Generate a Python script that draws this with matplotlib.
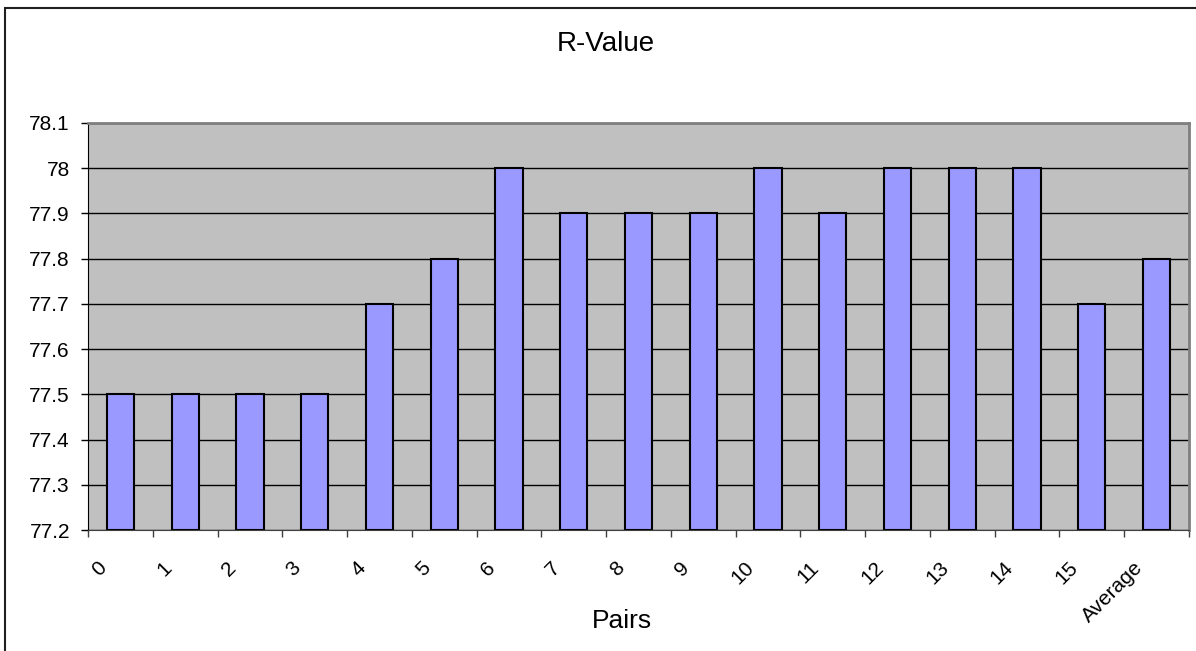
import matplotlib.pyplot as plt
import matplotlib.patches as patches
import matplotlib.transforms as mtransforms
import numpy as np

# Data
pairs = ['0', '1', '2', '3', '4', '5', '6', '7', '8', '9', '10',
         '11', '12', '13', '14', '15', 'Average']
r_values = [77.5, 77.5, 77.5, 77.5, 77.7, 77.8, 78.0, 77.9, 77.9, 77.9,
            78.0, 77.9, 78.0, 78.0, 78.0, 77.7, 77.8]
y_ticks = [77.2, 77.3, 77.4, 77.5, 77.6, 77.7, 77.8, 77.9, 78.0, 78.1]

plt.rcParams['font.family'] = ['Liberation Sans', 'DejaVu Sans']

W, H = 1196, 651
fig = plt.figure(figsize=(W / 100, H / 100), dpi=100)
ax = fig.add_axes([88 / W, 1 - 530 / H, (1189 - 88) / W, (530 - 123) / H])

x = np.arange(len(pairs))
ax.set_facecolor('#C0C0C0')
ax.set_axisbelow(True)
ax.yaxis.grid(True, color='black', linewidth=1)
ax.bar(x, np.array(r_values) - 77.2, bottom=77.2, width=0.42,
       color='#9999FF', edgecolor='black', linewidth=1.5, zorder=3)

ax.set_xlim(-0.5, len(pairs) - 0.5)
ax.set_ylim(77.2, 78.1)
ax.set_yticks(y_ticks)
ax.set_yticklabels([f"{v:g}" for v in y_ticks], fontsize=15)
ax.tick_params(axis='y', length=5, width=1, pad=8)

# category labels at centres, tick marks at boundaries
ax.set_xticks(x)
ax.set_xticklabels(pairs, rotation=45, ha='right', va='top', fontsize=15)
ax.tick_params(axis='x', which='major', length=0, pad=20)
ax.set_xticks(np.arange(-0.5, len(pairs)), minor=True)
ax.tick_params(axis='x', which='minor', length=5, width=1, color='#404040')
offset = mtransforms.ScaledTranslation(-10 / 100, 0, fig.dpi_scale_trans)
for lbl in ax.get_xticklabels():
    lbl.set_transform(lbl.get_transform() + offset)

for side in ['top', 'right']:
    ax.spines[side].set_color('#808080')
    ax.spines[side].set_linewidth(2)
ax.spines['left'].set_color('black')
ax.spines['bottom'].set_color('#404040')

fig.text(606 / W, 1 - 44 / H, 'R-Value', ha='center', va='center', fontsize=20)
fig.text(622 / W, 1 - 621 / H, 'Pairs', ha='center', va='center', fontsize=19)

# outer chart border
fig.patches.append(patches.Rectangle((5 / W, -0.1), 1.2, 1 - 8 / H + 0.1,
                                     transform=fig.transFigure, fill=False,
                                     edgecolor='#202020', linewidth=1.5))

fig.savefig('out.png', dpi=100)
